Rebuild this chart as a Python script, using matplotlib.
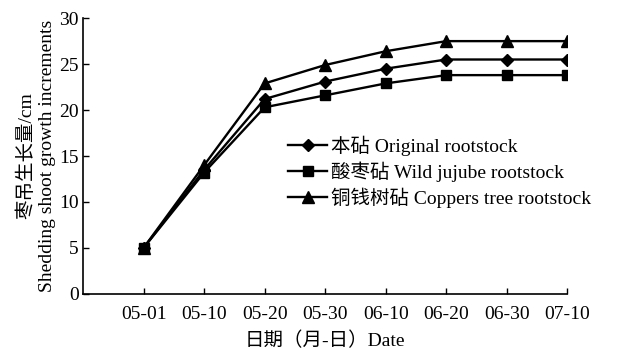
import matplotlib.pyplot as plt

plt.rcParams['font.family'] = ['Liberation Serif', 'Noto Sans CJK SC']

dates = ['05-01', '05-10', '05-20', '05-30', '06-10', '06-20', '06-30', '07-10']
original = [5.0, 13.5, 21.2, 23.1, 24.5, 25.5, 25.5, 25.5]
wild = [5.0, 13.2, 20.3, 21.6, 22.9, 23.8, 23.8, 23.8]
coppers = [5.0, 14.0, 22.9, 24.9, 26.4, 27.5, 27.5, 27.5]

fig = plt.figure(figsize=(6.29, 3.49), dpi=100)
ax = fig.add_axes([0.132, 0.158, 0.770, 0.79])

x = range(len(dates))
ax.plot(x, original, color='black', lw=1.7, marker='D', ms=6, label='本砧 Original rootstock')
ax.plot(x, wild, color='black', lw=1.7, marker='s', ms=6.5, label='酸枣砧 Wild jujube rootstock')
ax.plot(x, coppers, color='black', lw=1.7, marker='^', ms=8, label='铜钱树砧 Coppers tree rootstock')

ax.set_xlim(-1, 7)
ax.set_ylim(0, 30)
ax.set_xticks(list(x))
ax.set_xticklabels(dates)
ax.set_yticks(range(0, 31, 5))
ax.tick_params(direction='in', labelsize=14, width=1, length=4)
ax.tick_params(axis='x', pad=9)
ax.tick_params(axis='y', pad=3)
for s in ['top', 'right']:
    ax.spines[s].set_visible(False)
for s in ['left', 'bottom']:
    ax.spines[s].set_linewidth(1.2)

ax.set_xlabel('日期（月-日）Date', fontsize=14, labelpad=6)
ax.set_ylabel('枣吊生长量/cm\nShedding shoot growth increments', fontsize=14, labelpad=2,
              linespacing=1.35)

ax.legend(loc='upper left', bbox_to_anchor=(0.443, 0.64), bbox_transform=fig.transFigure,
          frameon=False, fontsize=14, handlelength=2.0, handletextpad=0.2,
          labelspacing=0.3, borderpad=0)

fig.savefig('out.png', dpi=100)
